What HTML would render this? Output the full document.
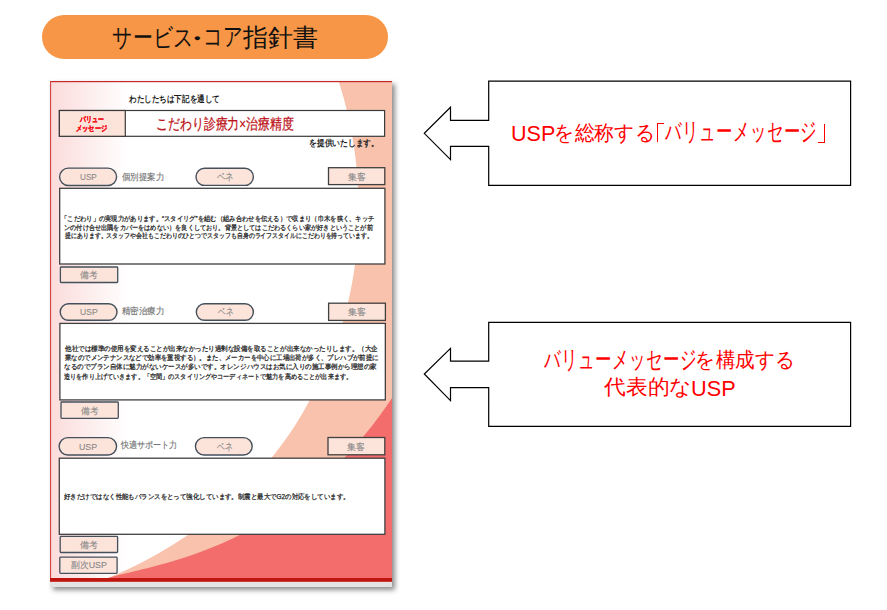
<!DOCTYPE html>
<html><head><meta charset="utf-8">
<style>
html,body{margin:0;padding:0;background:#fff;width:887px;height:610px;overflow:hidden;position:relative;font-family:"Liberation Sans",sans-serif;}
.a{position:absolute;box-sizing:border-box;}
.t{position:absolute;white-space:nowrap;line-height:1;transform-origin:0 0;}
</style></head><body>
<div class="a" style="left:42px;top:15px;width:346px;height:43.6px;background:#f79646;border-radius:22px;"></div>
<div class="a" style="left:50px;top:81px;width:342px;height:506px;background:#e3e3e3;box-shadow:3px 3px 5px rgba(0,0,0,0.45);"></div>
<svg class="a" style="left:0;top:0" width="887" height="610" viewBox="0 0 887 610">
 <defs><linearGradient id="lg" x1="0" x2="1" y1="0" y2="0">
  <stop offset="0" stop-color="#fbdbda"/><stop offset="1" stop-color="#ffffff"/></linearGradient></defs>
 <rect x="50" y="81" width="342" height="497" fill="#fff"/>
 <rect x="50" y="81" width="78" height="497" fill="url(#lg)"/>
 <clipPath id="doc"><rect x="50" y="81" width="342" height="497"/></clipPath>
 <g clip-path="url(#doc)"><path d="M337.0,76.0 C391.3,237.6 325.5,371.7 331.5,347.8 C333.9,338.2 299.0,499.1 108.1,578.0 L400,578 L400,76 Z" fill="#f9c2ac"/><path d="M400.0,385.6 C298.0,550.0 155.9,563.7 108.1,578.0 L400,578 Z" fill="#f26d6b"/></g>
 <rect x="50" y="578" width="342" height="3.8" fill="#c0140f"/>
 <rect x="50" y="81" width="342" height="1.2" fill="#c8282a"/>
 <rect x="50" y="81" width="1.1" height="497" fill="#d44646"/>
 <!-- callouts -->
 <path d="M488.7,81.2 H850.6 V185.3 H488.7 V146.3 H450.5 V159.6 L424.3,133.3 L450.5,107.3 V120.3 H488.7 Z" fill="#fff" stroke="#000" stroke-width="1.2"/>
 <path d="M488.7,322.4 H850.6 V426.4 H488.7 V387.6 H450.5 V400.6 L424.3,374 L450.5,348.4 V361.2 H488.7 Z" fill="#fff" stroke="#000" stroke-width="1.2"/>
</svg>
<svg class="a" style="left:0;top:0" width="887" height="610" viewBox="0 0 887 610">
<rect x="59.4" y="110.5" width="325.20" height="25.80" rx="0" fill="#fff" stroke="#3a3a3a" stroke-width="1.2"/>
<rect x="59.4" y="110.5" width="65.90" height="25.80" rx="0" fill="#fde4da" stroke="#3a3a3a" stroke-width="1.2"/>
<rect x="59.6" y="168.1" width="57.00" height="17.40" rx="8.700000000000003" fill="#fde4da" stroke="#44505c" stroke-width="1.4"/>
<rect x="196.0" y="168.3" width="57.40" height="17.10" rx="8.549999999999997" fill="#fde4da" stroke="#44505c" stroke-width="1.4"/>
<rect x="328.5" y="167.7" width="56.30" height="16.90" rx="0" fill="#fde4da" stroke="#404040" stroke-width="1.3"/>
<rect x="59.7" y="188.3" width="325.20" height="75.70" rx="0" fill="#fff" stroke="#404040" stroke-width="1.3"/>
<rect x="60.4" y="267.0" width="57.30" height="15.50" rx="0.8" fill="#fde4da" stroke="#44505c" stroke-width="1.3"/>
<rect x="60.2" y="303.8" width="56.80" height="16.50" rx="8.25" fill="#fde4da" stroke="#44505c" stroke-width="1.4"/>
<rect x="196.3" y="303.8" width="57.10" height="16.50" rx="8.25" fill="#fde4da" stroke="#44505c" stroke-width="1.4"/>
<rect x="328.6" y="303.2" width="56.80" height="17.20" rx="0" fill="#fde4da" stroke="#404040" stroke-width="1.3"/>
<rect x="59.9" y="323.4" width="325.45" height="76.50" rx="0" fill="#fff" stroke="#404040" stroke-width="1.3"/>
<rect x="61.0" y="402.0" width="57.30" height="16.40" rx="0.8" fill="#fde4da" stroke="#44505c" stroke-width="1.3"/>
<rect x="59.1" y="437.6" width="57.50" height="17.40" rx="8.699999999999989" fill="#fde4da" stroke="#44505c" stroke-width="1.4"/>
<rect x="195.4" y="437.6" width="56.80" height="17.40" rx="8.699999999999989" fill="#fde4da" stroke="#44505c" stroke-width="1.4"/>
<rect x="328.0" y="437.5" width="56.80" height="17.30" rx="0" fill="#fde4da" stroke="#404040" stroke-width="1.3"/>
<rect x="59.3" y="458.2" width="325.60" height="76.10" rx="0" fill="#fff" stroke="#404040" stroke-width="1.3"/>
<rect x="60.2" y="536.4" width="57.40" height="16.10" rx="0.8" fill="#fde4da" stroke="#44505c" stroke-width="1.3"/>
<rect x="59.8" y="557.1" width="57.30" height="16.30" rx="0.8" fill="#fde4da" stroke="#44505c" stroke-width="1.3"/>
</svg>
<div class="a" style="left:656.6px;top:122.9px;width:7.3px;height:19px;border-left:1.7px solid #ff0000;border-top:1.3px solid #ff0000;"></div>
<div class="a" style="left:817.9px;top:123.9px;width:6.9px;height:18.9px;border-right:1.8px solid #ff0000;border-bottom:1.2px solid #ff0000;"></div>
<div class="t" id="t1" style="left:112.10px;top:24.50px;font-size:25px;color:#111;font-weight:400;transform:scaleX(0.7959);">サービス</div>
<div class="t" id="t2" style="left:180.35px;top:25.50px;font-size:25px;color:#111;font-weight:400;transform:scaleX(1.3500);">・</div>
<div class="t" id="t3" style="left:202.66px;top:23.80px;font-size:25px;color:#111;font-weight:400;transform:scaleX(0.7804);">コア</div>
<div class="t" id="t4" style="left:242.60px;top:24.80px;font-size:25px;color:#111;font-weight:400;transform:scaleX(1.0000);">指針書</div>
<div class="t" id="c1u" style="left:511.02px;top:122.90px;font-size:22px;color:#ff0000;font-weight:400;transform:scaleX(0.9791);">USP</div>
<div class="t" id="c1a" style="left:554.02px;top:121.70px;font-size:21px;color:#ff0000;font-weight:400;transform:scaleX(0.9408);">を総称する</div>
<div class="t" id="c1c" style="left:665.00px;top:119.00px;font-size:25px;color:#ff0000;font-weight:400;transform:scaleX(0.6559);">バリューメッセージ</div>
<div class="t" id="c2a" style="left:544.10px;top:347.00px;font-size:25px;color:#ff0000;font-weight:400;transform:scaleX(0.6585);">バリューメッセージ</div>
<div class="t" id="c2a2" style="left:695.03px;top:349.00px;font-size:21px;color:#ff0000;font-weight:400;transform:scaleX(0.9330);">を構成する</div>
<div class="t" id="c2b" style="left:604.10px;top:375.60px;font-size:21px;color:#ff0000;font-weight:400;transform:scaleX(1.0361);">代表的な</div>
<div class="t" id="c2u" style="left:690.91px;top:378.20px;font-size:22px;color:#ff0000;font-weight:400;transform:scaleX(0.9860);">USP</div>
<div class="t" id="intro" style="left:128.50px;top:95.00px;font-size:8.5px;color:#1a1a1a;font-weight:700;transform:scaleX(0.8411);">わたしたちは下記を通して</div>
<div class="t" id="vm" style="left:156.31px;top:117.20px;font-size:14.5px;color:#bc1218;font-weight:400;transform:scaleX(0.7936);-webkit-text-stroke:0.25px #bc1218;">こだわり診療力×治療精度</div>
<div class="t" id="l1" style="left:80.10px;top:116.00px;font-size:7.5px;color:#f5101a;font-weight:700;transform:scaleX(0.7406);-webkit-text-stroke:0.3px #f5101a;">バリュー</div>
<div class="t" id="l2" style="left:76.23px;top:124.80px;font-size:7.5px;color:#f5101a;font-weight:700;transform:scaleX(0.7744);-webkit-text-stroke:0.3px #f5101a;">メッセージ</div>
<div class="t" id="prov" style="left:309.14px;top:139.40px;font-size:8.5px;color:#1a1a1a;font-weight:700;transform:scaleX(0.8649);">を提供いたします。</div>
<div class="t" id="u1" style="left:80.00px;top:173.00px;font-size:9.2px;color:#888888;font-weight:400;transform:scaleX(0.8895);-webkit-text-stroke:0.1px #888888;">USP</div>
<div class="t" id="u2" style="left:79.90px;top:308.30px;font-size:9.2px;color:#888888;font-weight:400;transform:scaleX(0.9316);-webkit-text-stroke:0.1px #888888;">USP</div>
<div class="t" id="u3" style="left:78.70px;top:442.60px;font-size:9.2px;color:#888888;font-weight:400;transform:scaleX(0.9579);-webkit-text-stroke:0.1px #888888;">USP</div>
<div class="t" id="b1" style="left:216.50px;top:171.60px;font-size:10px;color:#8a8a8a;font-weight:400;transform:scaleX(0.8474);-webkit-text-stroke:0.15px #8a8a8a;">ベネ</div>
<div class="t" id="b2" style="left:217.60px;top:307.00px;font-size:10px;color:#8a8a8a;font-weight:400;transform:scaleX(0.7579);-webkit-text-stroke:0.15px #8a8a8a;">ベネ</div>
<div class="t" id="b3" style="left:216.70px;top:441.60px;font-size:10px;color:#8a8a8a;font-weight:400;transform:scaleX(0.7737);-webkit-text-stroke:0.15px #8a8a8a;">ベネ</div>
<div class="t" id="k1" style="left:347.90px;top:173.10px;font-size:9px;color:#8a8a8a;font-weight:400;transform:scaleX(0.9889);-webkit-text-stroke:0.15px #8a8a8a;">集客</div>
<div class="t" id="k2" style="left:347.70px;top:308.30px;font-size:9px;color:#8a8a8a;font-weight:400;transform:scaleX(1.0056);-webkit-text-stroke:0.15px #8a8a8a;">集客</div>
<div class="t" id="k3" style="left:347.20px;top:442.80px;font-size:9px;color:#8a8a8a;font-weight:400;transform:scaleX(0.9889);-webkit-text-stroke:0.15px #8a8a8a;">集客</div>
<div class="t" id="n1" style="left:80.40px;top:270.80px;font-size:9px;color:#8a8a8a;font-weight:400;transform:scaleX(0.9778);-webkit-text-stroke:0.15px #8a8a8a;">備考</div>
<div class="t" id="n2" style="left:80.60px;top:406.60px;font-size:9px;color:#8a8a8a;font-weight:400;transform:scaleX(0.9667);-webkit-text-stroke:0.15px #8a8a8a;">備考</div>
<div class="t" id="n3" style="left:79.70px;top:540.60px;font-size:9px;color:#8a8a8a;font-weight:400;transform:scaleX(0.9889);-webkit-text-stroke:0.15px #8a8a8a;">備考</div>
<div class="t" id="sub" style="left:70.90px;top:561.00px;font-size:9px;color:#8a8a8a;font-weight:400;transform:scaleX(0.9806);-webkit-text-stroke:0.15px #8a8a8a;">副次USP</div>
<div class="t" id="s1" style="left:121.60px;top:173.40px;font-size:9px;color:#747474;font-weight:400;transform:scaleX(0.9364);-webkit-text-stroke:0.15px #747474;">個別提案力</div>
<div class="t" id="s2" style="left:121.80px;top:307.10px;font-size:9px;color:#747474;font-weight:400;transform:scaleX(0.9409);-webkit-text-stroke:0.15px #747474;">精密治療力</div>
<div class="t" id="s3" style="left:121.30px;top:441.20px;font-size:9px;color:#747474;font-weight:400;transform:scaleX(0.8968);-webkit-text-stroke:0.15px #747474;">快適サポート力</div>
<div class="t" id="p1a" style="left:61.49px;top:214.70px;font-size:7px;color:#262626;font-weight:400;transform:scaleX(0.9015);-webkit-text-stroke:0.25px #262626;">「こだわり」の実現力があります。“スタイリグ”を組む（組み合わせを伝える）で収まり（巾木を狭く、キッチ</div>
<div class="t" id="p1b" style="left:64.22px;top:223.60px;font-size:7px;color:#262626;font-weight:400;transform:scaleX(0.8822);-webkit-text-stroke:0.25px #262626;">ンの付け合せ出隅をカバーをはめない）を良くしており。背景としてはこだわるくらい家が好きということが前</div>
<div class="t" id="p1c" style="left:65.10px;top:232.30px;font-size:7px;color:#262626;font-weight:400;transform:scaleX(0.8460);-webkit-text-stroke:0.25px #262626;">提にあります。スタッフや会社もこだわりのひとつでスタッフも自身のライフスタイルにこだわりを持っています。</div>
<div class="t" id="p2a" style="left:65.00px;top:345.40px;font-size:7px;color:#262626;font-weight:400;transform:scaleX(0.9307);-webkit-text-stroke:0.25px #262626;">他社では標準の使用を変えることが出来なかったり過剰な設備を取ることが出来なかったりします。（大企</div>
<div class="t" id="p2b" style="left:65.00px;top:354.30px;font-size:7px;color:#262626;font-weight:400;transform:scaleX(0.9143);-webkit-text-stroke:0.25px #262626;">業なのでメンテナンスなどで効率を重視する）。また、メーカーを中心に工場出荷が多く、プレハブが前提に</div>
<div class="t" id="p2c" style="left:64.07px;top:363.30px;font-size:7px;color:#262626;font-weight:400;transform:scaleX(0.9313);-webkit-text-stroke:0.25px #262626;">なるのでプラン自体に魅力がないケースが多いです。オレンジハウスはお気に入りの施工事例から理想の家</div>
<div class="t" id="p2d" style="left:64.12px;top:372.90px;font-size:7px;color:#262626;font-weight:400;transform:scaleX(0.8755);-webkit-text-stroke:0.25px #262626;">造りを作り上げていきます。「空間」のスタイリングやコーディネートで魅力を高めることが出来ます。</div>
<div class="t" id="p3" style="left:63.50px;top:492.70px;font-size:7px;color:#262626;font-weight:400;transform:scaleX(0.9200);-webkit-text-stroke:0.25px #262626;">好きだけではなく性能もバランスをとって強化しています。制震と最大でG2の対応をしています。</div>
</body></html>
